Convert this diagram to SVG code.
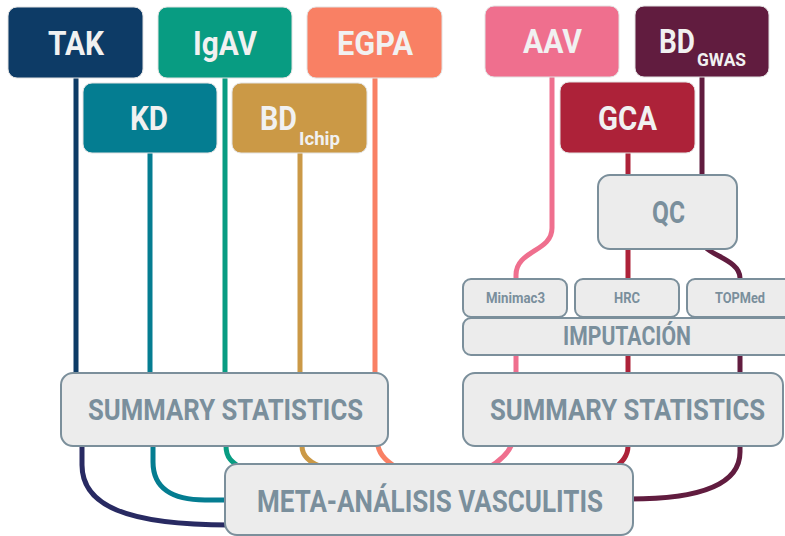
<svg xmlns="http://www.w3.org/2000/svg" width="785" height="536" viewBox="0 0 785 536">
  <style>
    .wire { fill: none; stroke-width: 5; stroke-linecap: butt; }
    .node { stroke: #e2e2e2; stroke-width: 1; }
    .box { fill: #ececec; stroke: #7b8f9b; stroke-width: 2; }
    .lbl { font-family: Roboto, "Liberation Sans", sans-serif; font-weight: 700; fill: #f1f1f1; }
    .glbl { font-family: Roboto, "Liberation Sans", sans-serif; font-weight: 700; fill: #7a8f9c; }
  </style>
  <rect width="785" height="536" fill="#ffffff"/>

  <!-- connectors -->
  <g id="connectors">
    <!-- TAK -->
    <path class="wire" stroke="#0d3b66" d="M76 78 V400"/>
    <path class="wire" stroke="#282a62" d="M82 420 V465 C82 505 125 525 230 525"/>
    <!-- KD -->
    <path class="wire" stroke="#047d91" d="M150 153 V410 L153 430 V462 C153 488 172 500 205 500 H230"/>
    <!-- IgAV -->
    <path class="wire" stroke="#089c82" d="M225 78 V430 L226 446 C226 458 232 462 241 468"/>
    <!-- BD Ichip -->
    <path class="wire" stroke="#cb9946" d="M300 153 V430 L302 446 C302 458 312 464 325 468"/>
    <!-- EGPA -->
    <path class="wire" stroke="#f98064" d="M375 78 V430 L378 446 C380 456 388 462 397 468"/>
    <!-- AAV -->
    <path class="wire" stroke="#ef6f8e" d="M552 77 V228 C552 252 516 250 516 275 V430 L511 446 C507 455 498 462 488 468"/>
    <!-- GCA -->
    <path class="wire" stroke="#ad2239" d="M628 153 V446 C628 456 622 462 615 468"/>
    <!-- BD GWAS -->
    <path class="wire" stroke="#611c3f" d="M702 77 V240 C702 255 740 258 740 278 V452 C740 485 700 499 630 499"/>
  </g>

  <!-- source cohorts -->
  <g id="node-tak">
    <rect class="node" x="8" y="7" width="135" height="71" rx="9" fill="#0d3b66"/>
    <text class="lbl" x="48" y="55" font-size="33" textLength="56" lengthAdjust="spacingAndGlyphs">TAK</text>
  </g>
  <g id="node-igav">
    <rect class="node" x="158" y="7" width="134" height="71" rx="9" fill="#089c82"/>
    <text class="lbl" x="193" y="55" font-size="33" textLength="64" lengthAdjust="spacingAndGlyphs">IgAV</text>
  </g>
  <g id="node-egpa">
    <rect class="node" x="307" y="7" width="135" height="71" rx="9" fill="#f98064"/>
    <text class="lbl" x="337" y="55" font-size="33" textLength="76" lengthAdjust="spacingAndGlyphs">EGPA</text>
  </g>
  <g id="node-kd">
    <rect class="node" x="83" y="83" width="134" height="70" rx="9" fill="#047d91"/>
    <text class="lbl" x="130" y="130" font-size="33" textLength="38" lengthAdjust="spacingAndGlyphs">KD</text>
  </g>
  <g id="node-bd-ichip">
    <rect class="node" x="232" y="83" width="135" height="70" rx="9" fill="#cb9946"/>
    <text class="lbl" x="260" y="130" font-size="33" textLength="37" lengthAdjust="spacingAndGlyphs">BD</text>
    <text class="lbl" x="299" y="145" font-size="18" textLength="41" lengthAdjust="spacingAndGlyphs">Ichip</text>
  </g>
  <g id="node-aav">
    <rect class="node" x="485" y="6" width="134" height="71" rx="9" fill="#ef6f8e"/>
    <text class="lbl" x="523" y="53" font-size="33" textLength="59" lengthAdjust="spacingAndGlyphs">AAV</text>
  </g>
  <g id="node-bd-gwas">
    <rect class="node" x="635" y="6" width="134" height="71" rx="9" fill="#611c3f"/>
    <text class="lbl" x="659" y="53" font-size="33" textLength="36" lengthAdjust="spacingAndGlyphs">BD</text>
    <text class="lbl" x="697" y="66" font-size="18" textLength="49" lengthAdjust="spacingAndGlyphs">GWAS</text>
  </g>
  <g id="node-gca">
    <rect class="node" x="560" y="82" width="135" height="71" rx="9" fill="#ad2239"/>
    <text class="lbl" x="598" y="130" font-size="33" textLength="59" lengthAdjust="spacingAndGlyphs">GCA</text>
  </g>

  <!-- processing steps -->
  <g id="node-qc">
    <rect class="box" x="598" y="175" width="139" height="74" rx="12"/>
    <text class="glbl" x="652" y="223" font-size="31" textLength="33" lengthAdjust="spacingAndGlyphs">QC</text>
  </g>
  <g id="node-minimac3">
    <rect class="box" x="463" y="279" width="104" height="38" rx="8"/>
    <text class="glbl" x="486" y="303" font-size="14" textLength="59" lengthAdjust="spacingAndGlyphs">Minimac3</text>
  </g>
  <g id="node-hrc">
    <rect class="box" x="575" y="279" width="104" height="38" rx="8"/>
    <text class="glbl" x="614" y="303" font-size="14" textLength="26" lengthAdjust="spacingAndGlyphs">HRC</text>
  </g>
  <g id="node-topmed">
    <rect class="box" x="687" y="279" width="106" height="38" rx="8"/>
    <text class="glbl" x="715" y="303" font-size="14" textLength="50" lengthAdjust="spacingAndGlyphs">TOPMed</text>
  </g>
  <g id="node-imputacion">
    <rect class="box" x="463" y="318" width="330" height="37" rx="8"/>
    <text class="glbl" x="563" y="345" font-size="25" textLength="128" lengthAdjust="spacingAndGlyphs">IMPUTACIÓN</text>
  </g>
  <g id="node-summary-left">
    <rect class="box" x="61" y="373" width="327" height="73" rx="12"/>
    <text class="glbl" transform="translate(88 420) scale(0.9 1)" x="0" y="0" font-size="30" textLength="305.6" lengthAdjust="spacingAndGlyphs">SUMMARY STATISTICS</text>
  </g>
  <g id="node-summary-right">
    <rect class="box" x="463" y="373" width="320" height="73" rx="12"/>
    <text class="glbl" transform="translate(490 420) scale(0.9 1)" x="0" y="0" font-size="30" textLength="305.6" lengthAdjust="spacingAndGlyphs">SUMMARY STATISTICS</text>
  </g>
  <g id="node-meta">
    <rect class="box" x="225" y="464" width="408" height="71" rx="12"/>
    <text class="glbl" x="257" y="512" font-size="32" textLength="346" lengthAdjust="spacingAndGlyphs">META-ANÁLISIS VASCULITIS</text>
  </g>
</svg>
